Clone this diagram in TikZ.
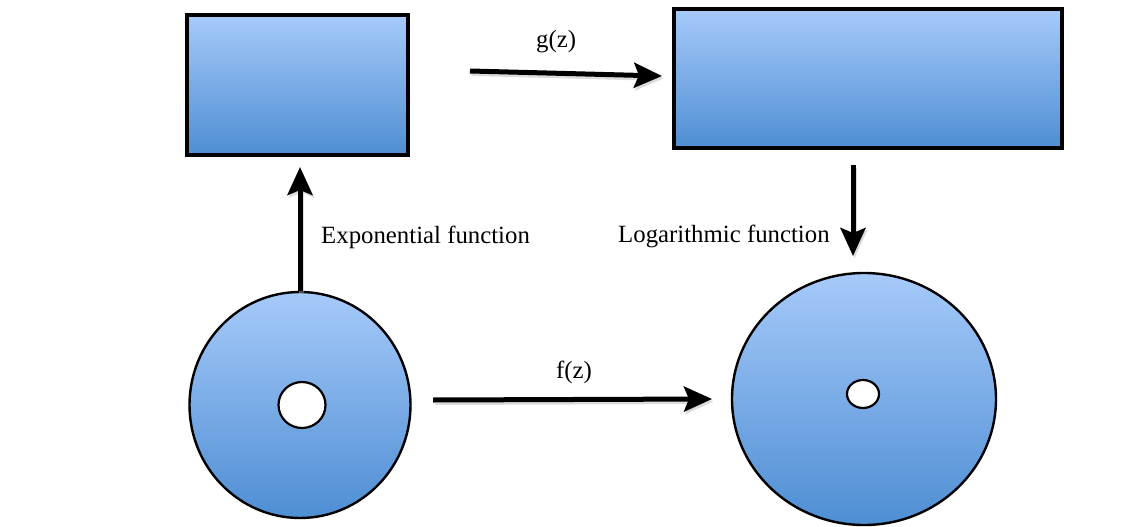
\documentclass[tikz,border=0pt]{standalone}
\usepackage{fontspec}
\setmainfont{Liberation Serif}
\usetikzlibrary{arrows.meta,shapes.geometric}
\definecolor{topblue}{RGB}{166,202,250}
\definecolor{botblue}{RGB}{78,142,211}
\tikzset{
  box/.style={draw=black, line width=4pt, top color=topblue, bottom color=botblue, inner sep=0pt},
  disc/.style={ellipse, draw=black, line width=2.4pt, top color=topblue, bottom color=botblue, inner sep=0pt},
  hole/.style={ellipse, draw=black, line width=2.2pt, fill=white, inner sep=0pt},
  maparrow/.style={line width=5pt, -{Stealth[length=28pt, width=25pt, inset=5pt]}},
  shadowarrow/.style={maparrow, draw=black!30, opacity=0.45, transform canvas={shift={(1.5pt,-2.5pt)}}},
  lbl/.style={font=\fontsize{24.8}{28}\selectfont, inner sep=0pt, anchor=west}
}
\begin{document}
\begin{tikzpicture}[x=1pt,y=-1pt]
\useasboundingbox (0,0) rectangle (1143,527);
% boxes
\node[box, minimum width=221pt, minimum height=140pt] (r1) at (297.5,85) {};
\node[box, minimum width=388pt, minimum height=139pt] (r2) at (868,78.5) {};
% discs
\node[disc, minimum width=221pt, minimum height=226pt] (c1) at (300,405) {};
\node[hole, minimum width=47pt, minimum height=46pt] (h1) at (302,405) {};
\node[disc, minimum width=264pt, minimum height=252pt] (c2) at (864,399) {};
\node[hole, minimum width=32pt, minimum height=28pt] (h2) at (863,394) {};
% arrow end points
\coordinate (us) at (c1.north);
\coordinate (ue) at ([yshift=-10pt]c1.north |- r1.south);
\coordinate (gs) at (470,71);
\coordinate (ge) at (662,76);
\coordinate (fs) at (433,400);
\coordinate (fe) at (712,399);
\coordinate (ds) at (853,165);
\coordinate (de) at (853,256);
% shadows
\draw[shadowarrow] (us) -- (ue);
\draw[shadowarrow] (gs) -- (ge);
\draw[shadowarrow] (ds) -- (de);
\draw[shadowarrow] (fs) -- (fe);
% arrows
\draw[maparrow] (us) -- (ue);
\draw[maparrow] (gs) -- (ge);
\draw[maparrow] (ds) -- (de);
\draw[maparrow] (fs) -- (fe);
% labels
\node[lbl] (lg) at (536,42) {g(z)};
\node[lbl] (lf) at (556,372) {f(z)};
\node[lbl] (le) at (321,237) {Exponential function};
\node[lbl] (ll) at (618,236) {Logarithmic function};
\end{tikzpicture}
\end{document}
